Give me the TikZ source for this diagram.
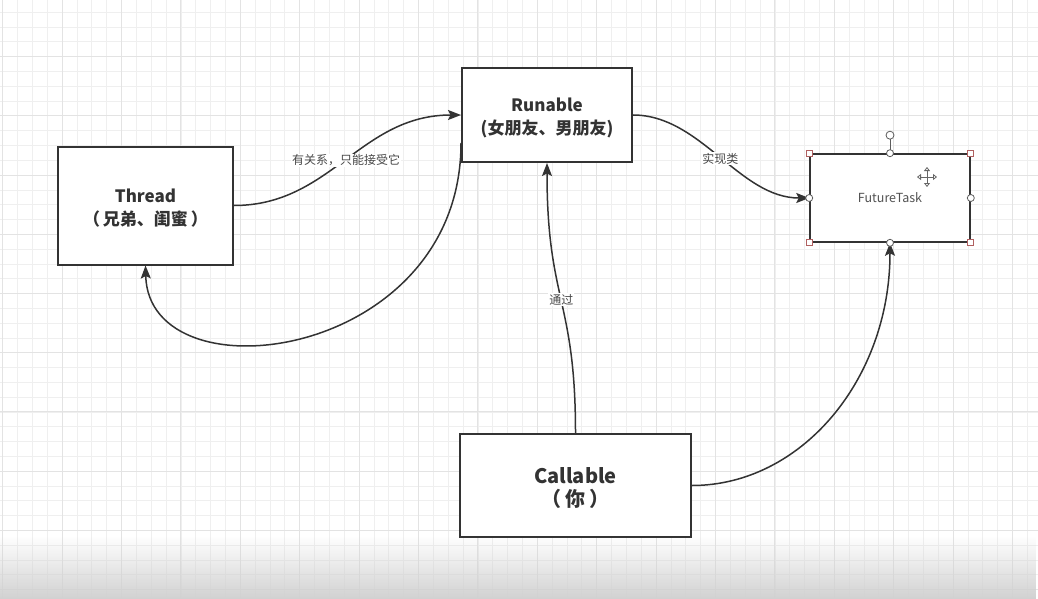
\documentclass[tikz,border=0pt]{standalone}
\usepackage{fontspec}
\setmainfont{Noto Sans CJK SC}
\usetikzlibrary{arrows.meta,calc,fadings}
\definecolor{ink}{HTML}{333333}
\definecolor{gridminor}{HTML}{EFEFEF}
\definecolor{gridmajor}{HTML}{E3E3E3}
\definecolor{handle}{HTML}{B06060}
\tikzfading[name=fadedown, top color=transparent!100, bottom color=transparent!0]
\tikzset{
  box/.style={draw=ink, line width=2pt, fill=white, inner sep=0pt},
  boxtext/.style={align=center, text=ink, inner sep=0pt, yshift=-3pt,
    font=\fontsize{17pt}{23pt}\selectfont\bfseries},
  conn/.style={draw=ink, line width=1.5pt, -{Stealth[length=13pt,width=10pt,inset=2.5pt]}},
  lbl/.style={fill=white, text=ink!90, inner sep=1pt, font=\fontsize{12pt}{14pt}\selectfont},
  sqhandle/.style={draw=handle, fill=white, line width=0.8pt, minimum size=6pt, inner sep=0pt, rectangle},
  cihandle/.style={draw=ink!80, fill=white, line width=0.8pt, minimum size=7pt, inner sep=0pt, circle}
}
\begin{document}
\begin{tikzpicture}[x=1pt,y=-1pt]
\useasboundingbox (0,0) rectangle (1038,599);
\fill[white] (0,0) rectangle (1038,599);
% grid
\foreach \i in {0,...,70} {
  \draw[gridminor, line width=0.8pt] ({2.7+\i*14.85},0) -- ({2.7+\i*14.85},599);
}
\foreach \j in {0,...,41} {
  \draw[gridminor, line width=0.8pt] (0,{-2.5+\j*14.8}) -- (1038,{-2.5+\j*14.8});
}
\foreach \i in {0,...,17} {
  \draw[gridmajor, line width=1pt] ({2.7+\i*59.4},0) -- ({2.7+\i*59.4},599);
}
\foreach \j in {0,...,10} {
  \draw[gridmajor, line width=1pt] (0,{-2.5+\j*59.2}) -- (1038,{-2.5+\j*59.2});
}

% nodes
\node[box, minimum width=175pt, minimum height=118pt,
  label={[boxtext]center:{Thread\\（\hspace{3pt}兄弟、闺蜜\hspace{3pt}）}}] (T) at (145.5,205.5) {};
\node[box, minimum width=170pt, minimum height=94pt,
  label={[boxtext]center:{Runable\\(女朋友、男朋友)}}] (R) at (547,115) {};
\node[box, minimum width=231pt, minimum height=103pt,
  label={[boxtext, font=\fontsize{20pt}{23pt}\selectfont\bfseries]center:{Callable\\（\hspace{4pt}你\hspace{4pt}）}}] (C) at (575.5,485.5) {};
\node[draw=ink, line width=1.6pt, fill=white, minimum width=160pt, minimum height=88pt, text=ink!85, font=\fontsize{12.5pt}{15pt}\selectfont, inner sep=0pt] (F) at (890,198) {FutureTask};

\coordinate (Rlow) at ($(R.south west)+(0,-20)$);

% connectors
\draw[conn] (T.east) .. controls +(97,0) and +(-101,0) .. (R.west)
  node[lbl, pos=0.5] {有关系，只能接受它};
\draw[conn] (Rlow) .. controls +(0,218) and +(3,135) .. (T.south);
\draw[conn] (R.east) .. controls +(68,0) and +(-70,0) .. (F.west)
  node[lbl, pos=0.5, yshift=-2pt] {实现类};
\draw[conn] (C.north) .. controls +(0,-134) and +(0,138) .. (R.south)
  node[lbl, pos=0.5] {通过};
\draw[conn] (C.east) .. controls +(109,0) and +(0,137) .. (F.south);

% selection handles on FutureTask
\coordinate (Frot) at ($(F.north)+(0,-18)$);
\draw[ink!80, line width=0.8pt] (F.north) -- (Frot);
\node[cihandle, minimum size=8pt] (hrot) at (Frot) {};
\foreach \a in {north west, north east, south west, south east} {
  \node[sqhandle] at (F.\a) {};
}
\foreach \a in {north, south, east, west} {
  \node[cihandle] at (F.\a) {};
}
% move cursor
\coordinate (mv) at (927,177);
\draw[ink!75, line width=0.8pt, {Triangle[open,length=4pt,width=6pt]}-{Triangle[open,length=4pt,width=6pt]}]
  ($(mv)+(-10,0)$) -- ($(mv)+(10,0)$);
\draw[ink!75, line width=0.8pt, {Triangle[open,length=4pt,width=6pt]}-{Triangle[open,length=4pt,width=6pt]}]
  ($(mv)+(0,-10)$) -- ($(mv)+(0,10)$);

% bottom fade
\fill[black!18, path fading=fadedown] (0,536) rectangle (1038,599);
\end{tikzpicture}
\end{document}
